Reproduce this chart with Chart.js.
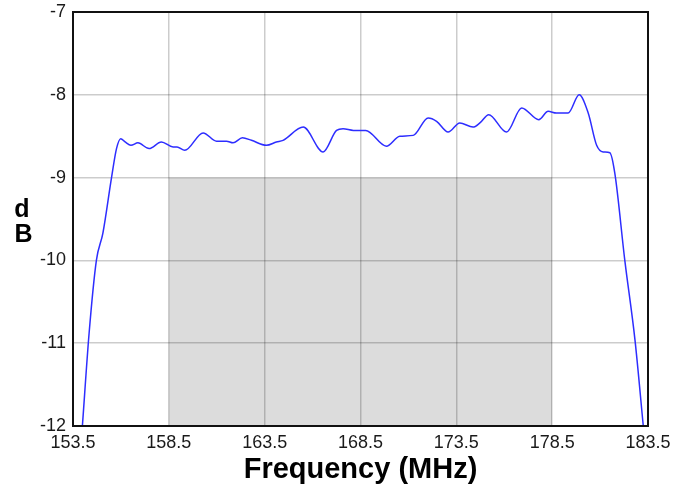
<!DOCTYPE html>
<html>
<head>
<meta charset="utf-8">
<script src="https://cdn.jsdelivr.net/npm/chart.js@4"></script>
<style>
  html, body { margin: 0; padding: 0; background: #fff; }
  #wrap { width: 690px; height: 489px; position: relative; }
</style>
</head>
<body>
<div id="wrap"><canvas id="c" width="690" height="489"></canvas></div>
<script>
const freqs = [153.99, 154.34, 154.72, 155.06, 155.51, 155.77, 155.99, 156.22, 156.52, 156.89,
  157.47, 158.11, 158.72, 158.93, 159.33, 160.29, 160.99, 161.51, 161.85, 162.34,
  162.81, 163.59, 164.11, 164.46, 165.51, 166.55, 167.25, 167.59, 168.13, 168.77,
  169.85, 170.55, 171.25, 172.03, 172.47, 173.07, 173.68, 174.37, 174.73, 175.19,
  176.12, 176.91, 177.80, 178.29, 178.72, 179.33, 179.91, 180.38, 180.82, 181.16,
  181.51, 181.77, 182.29, 182.82, 183.25];
const gainDB = [-12.0, -10.88, -10.0, -9.67, -9.0, -8.65, -8.53, -8.57, -8.61, -8.58,
  -8.65, -8.57, -8.63, -8.63, -8.67, -8.46, -8.56, -8.56, -8.58, -8.52,
  -8.55, -8.61, -8.57, -8.55, -8.39, -8.69, -8.43, -8.41, -8.43, -8.43,
  -8.62, -8.50, -8.49, -8.28, -8.32, -8.45, -8.34, -8.39, -8.34, -8.24,
  -8.45, -8.16, -8.30, -8.20, -8.22, -8.22, -8.00, -8.22, -8.61, -8.69,
  -8.70, -8.95, -10.0, -10.96, -11.99];
const maskFreqs = [158.5, 178.5];
const maskDB = [-9, -9];
const xTickValues = [153.5, 158.5, 163.5, 168.5, 173.5, 178.5, 183.5];
const yTickValues = [-7, -8, -9, -10, -11, -12];
const xTitle = 'Frequency (MHz)';
const yTitleLines = ['d', 'B'];

const FONT = "'Liberation Sans', Arial, sans-serif";

const framePlugin = {
  id: 'frame',
  afterDraw(chart) {
    const {ctx, chartArea: a} = chart;
    ctx.save();
    ctx.strokeStyle = '#111';
    ctx.lineWidth = 2;
    ctx.strokeRect(a.left, a.top, a.right - a.left, a.bottom - a.top);
    ctx.fillStyle = '#000';
    ctx.font = 'bold 25px ' + FONT;
    ctx.textAlign = 'center';
    ctx.textBaseline = 'alphabetic';
    ctx.fillText(yTitleLines[0], 22, 217);
    ctx.fillText(yTitleLines[1], 23.5, 242);
    ctx.restore();
  }
};

new Chart(document.getElementById('c'), {
  type: 'scatter',
  data: {
    datasets: [
      {
        data: freqs.map((f, i) => ({x: f, y: gainDB[i]})),
        showLine: true,
        borderColor: 'rgb(45,45,255)',
        borderWidth: 1.5,
        pointRadius: 0,
        cubicInterpolationMode: 'monotone',
        fill: false
      },
      {
        data: maskFreqs.map((f, i) => ({x: f, y: maskDB[i]})),
        showLine: true,
        borderWidth: 0,
        borderColor: 'rgba(0,0,0,0)',
        backgroundColor: 'rgba(0,0,0,0.137)',
        pointRadius: 0,
        fill: 'start'
      }
    ]
  },
  options: {
    responsive: false,
    animation: false,
    layout: { padding: { left: 0, right: 42, top: 12, bottom: 0 } },
    plugins: { legend: { display: false }, tooltip: { enabled: false } },
    scales: {
      x: {
        type: 'linear',
        min: 153.5, max: 183.5,
        afterBuildTicks(scale) { scale.ticks = xTickValues.map(v => ({value: v})); },
        afterFit(scale) { scale.height = 63; },
        grid: { color: 'rgba(0,0,0,0.2)', lineWidth: 1.5, drawTicks: false },
        border: { display: false },
        ticks: {
          autoSkip: false, maxRotation: 0, padding: 6,
          color: '#1a1a1a', font: { family: FONT, size: 18 },
          callback: v => Number(v).toFixed(1)
        },
        title: {
          display: true, text: xTitle, color: '#000',
          font: { family: FONT, size: 29, weight: 'bold' },
          padding: { top: 0, bottom: 2 }
        }
      },
      y: {
        type: 'linear',
        min: -12, max: -7,
        afterBuildTicks(scale) { scale.ticks = yTickValues.map(v => ({value: v})); },
        afterFit(scale) { scale.width = 73; scale.paddingTop = 0; scale.paddingBottom = 0; },
        grid: { color: 'rgba(0,0,0,0.2)', lineWidth: 1.5, drawTicks: false },
        border: { display: false },
        ticks: {
          padding: 7, color: '#1a1a1a', font: { family: FONT, size: 18 }
        }
      }
    }
  },
  plugins: [framePlugin]
});
</script>
</body>
</html>
